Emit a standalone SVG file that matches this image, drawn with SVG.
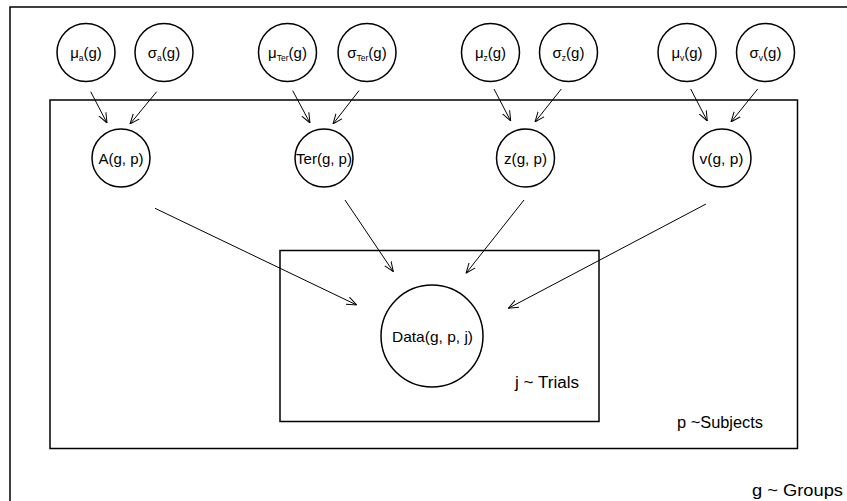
<svg xmlns="http://www.w3.org/2000/svg" width="847" height="501" viewBox="0 0 847 501">
<defs>
<style>
.plate{fill:none;stroke:#000;stroke-width:1.5}
.node circle{fill:#fff;stroke:#000;stroke-width:1.5}
text{font-family:"Liberation Sans",Arial,sans-serif;font-size:15px;fill:#000}
.node text{text-anchor:middle}
.sub{font-size:8.5px}
.lbl{font-size:16px}
.edge{stroke:#000;stroke-width:1;fill:none;marker-end:url(#arr)}
</style>
<marker id="arr" viewBox="0 0 10 10" refX="10" refY="5" markerWidth="10" markerHeight="10" markerUnits="userSpaceOnUse" orient="auto">
<polyline points="0,1 10,5 0,9" fill="none" stroke="#000" stroke-width="1"/>
</marker>
</defs>
<rect width="847" height="501" fill="#fff"/>
<g id="plate-groups">
<rect class="plate" x="10" y="7" width="850" height="510"/>
<text class="lbl" x="752" y="496" textLength="91" lengthAdjust="spacingAndGlyphs">g ~ Groups</text>
</g>
<g id="plate-subjects">
<rect class="plate" x="50" y="100" width="747.5" height="348.5"/>
<text class="lbl" x="677" y="428" textLength="86" lengthAdjust="spacingAndGlyphs">p ~Subjects</text>
</g>
<g id="plate-trials">
<rect class="plate" x="280" y="250.5" width="319" height="171"/>
<text class="lbl" x="515" y="388" textLength="64" lengthAdjust="spacingAndGlyphs">j ~ Trials</text>
</g>
<g id="mu_a" class="node"><circle cx="86" cy="52.5" r="29"/><text x="86" y="57.5">μ<tspan class="sub" dy="3">a</tspan><tspan dy="-3">(g)</tspan></text></g>
<g id="sigma_a" class="node"><circle cx="164" cy="52.5" r="29"/><text x="164" y="57.5">σ<tspan class="sub" dy="3">a</tspan><tspan dy="-3">(g)</tspan></text></g>
<g id="mu_Ter" class="node"><circle cx="287.5" cy="52.5" r="29"/><text x="287.5" y="57.5">μ<tspan class="sub" dy="3">Ter</tspan><tspan dy="-3">(g)</tspan></text></g>
<g id="sigma_Ter" class="node"><circle cx="367" cy="52.5" r="29"/><text x="367" y="57.5">σ<tspan class="sub" dy="3">Ter</tspan><tspan dy="-3">(g)</tspan></text></g>
<g id="mu_z" class="node"><circle cx="490.5" cy="52.5" r="29"/><text x="490.5" y="57.5">μ<tspan class="sub" dy="3">z</tspan><tspan dy="-3">(g)</tspan></text></g>
<g id="sigma_z" class="node"><circle cx="568.5" cy="52.5" r="29"/><text x="568.5" y="57.5">σ<tspan class="sub" dy="3">z</tspan><tspan dy="-3">(g)</tspan></text></g>
<g id="mu_v" class="node"><circle cx="687" cy="52.5" r="29"/><text x="687" y="57.5">μ<tspan class="sub" dy="3">v</tspan><tspan dy="-3">(g)</tspan></text></g>
<g id="sigma_v" class="node"><circle cx="765.5" cy="52.5" r="29"/><text x="765.5" y="57.5">σ<tspan class="sub" dy="3">v</tspan><tspan dy="-3">(g)</tspan></text></g>
<g id="A" class="node"><circle cx="121" cy="158" r="29"/><text x="121" y="163.5" textLength="45" lengthAdjust="spacingAndGlyphs">A(g, p)</text></g>
<g id="Ter" class="node"><circle cx="324" cy="158" r="29"/><text x="324" y="163.5" textLength="56" lengthAdjust="spacingAndGlyphs">Ter(g, p)</text></g>
<g id="z" class="node"><circle cx="525.5" cy="158" r="29"/><text x="525.5" y="163.5" textLength="43" lengthAdjust="spacingAndGlyphs">z(g, p)</text></g>
<g id="v" class="node"><circle cx="722" cy="158" r="29"/><text x="721.5" y="163.5" textLength="44" lengthAdjust="spacingAndGlyphs">v(g, p)</text></g>
<g id="Data" class="node"><circle cx="432" cy="336" r="51"/><text x="432.5" y="341.5" textLength="81" lengthAdjust="spacingAndGlyphs">Data(g, p, j)</text></g>
<g id="connectors">
<line class="edge" x1="90.7" y1="91.7" x2="107" y2="123"/>
<line class="edge" x1="156.7" y1="91.7" x2="130" y2="124"/>
<line class="edge" x1="292.7" y1="90.7" x2="310" y2="123"/>
<line class="edge" x1="359" y1="90.7" x2="333" y2="124"/>
<line class="edge" x1="494" y1="89" x2="510.7" y2="121"/>
<line class="edge" x1="561.3" y1="89" x2="535" y2="122"/>
<line class="edge" x1="690.7" y1="89" x2="707.3" y2="121"/>
<line class="edge" x1="757.7" y1="89" x2="731" y2="122"/>
<line class="edge" x1="155" y1="208.3" x2="356.7" y2="305"/>
<line class="edge" x1="345" y1="200" x2="393.3" y2="271.7"/>
<line class="edge" x1="524" y1="200" x2="466" y2="273.3"/>
<line class="edge" x1="706" y1="204" x2="508.3" y2="308.3"/>
</g>
</svg>
